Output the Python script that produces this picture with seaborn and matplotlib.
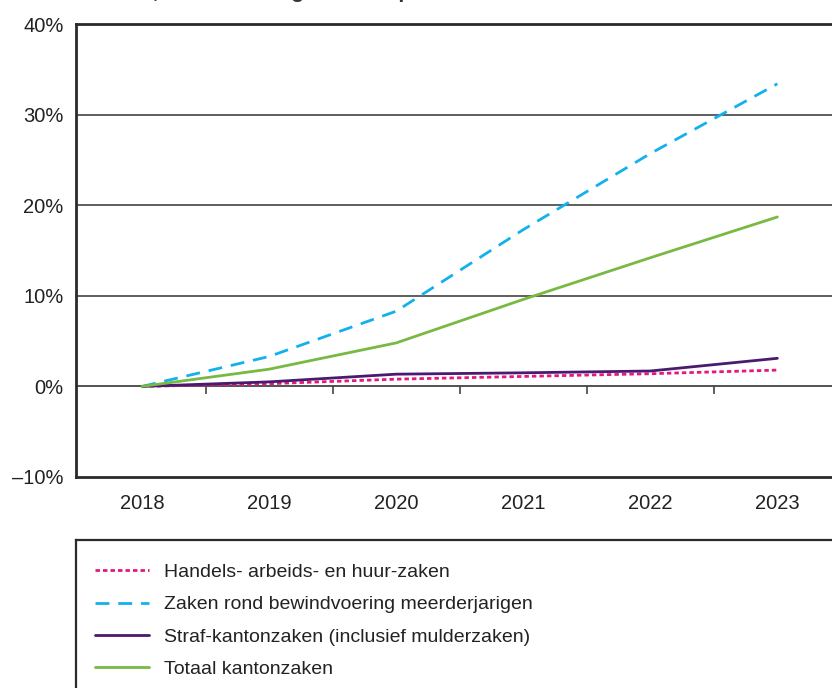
import numpy as np
import pandas as pd
import seaborn as sns
import matplotlib.pyplot as plt
from matplotlib.lines import Line2D

# data (groei t.o.v. 2018, in %)
years = [2018, 2019, 2020, 2021, 2022, 2023]
handels = [0.0, 0.3, 0.8, 1.1, 1.4, 1.8]
bewind = [0.0, 3.3, 8.3, 17.3, 25.7, 33.4]
straf = [0.0, 0.5, 1.35, 1.5, 1.7, 3.1]
totaal = [0.0, 1.9, 4.8, 9.6, 14.2, 18.7]

series_names = ['Handels- arbeids- en huur-zaken',
                'Zaken rond bewindvoering meerderjarigen',
                'Straf-kantonzaken (inclusief mulderzaken)',
                'Totaal kantonzaken']
y_ticks = [-10, 0, 10, 20, 30, 40]
y_labels = ['\u201310%', '0%', '10%', '20%', '30%', '40%']
title = 'Aantal zaken, cumulatieve groei ten opzichte van 2018'

colors = ['#E6177F', '#12B1EE', '#4A1A6E', '#78B944']
dashes = [(0, (1.6, 1.1)), (0, (5, 3.2)), '-', '-']

df = pd.DataFrame({'jaar': years, series_names[0]: handels, series_names[1]: bewind,
                   series_names[2]: straf, series_names[3]: totaal})
long = df.melt(id_vars='jaar', var_name='reeks', value_name='groei')

sns.set_style('white')
plt.rcParams['font.family'] = ['Liberation Sans', 'DejaVu Sans']

fig = plt.figure(figsize=(8.32, 6.88), dpi=100)
ax = fig.add_axes([76 / 832, 1 - 477 / 688, 1 - 76 / 832, (477 - 24) / 688])

# raster
for v in [10, 20, 30]:
    ax.axhline(v, color='#333333', lw=1.1, zorder=1)
ax.axhline(0, color='#444444', lw=1.3, zorder=1)

for name, c, ls in zip(series_names, colors, dashes):
    sub = long[long['reeks'] == name]
    sns.lineplot(data=sub, x='jaar', y='groei', ax=ax, color=c, lw=2.0,
                 linestyle=ls, zorder=3, legend=False)

ax.set_xlim(2017.48, 2023.43)
ax.set_ylim(-10, 40)
ax.set_yticks(y_ticks)
ax.set_yticklabels(y_labels)
ax.set_xticks(years)
ax.set_xticklabels([str(y) for y in years])
ax.set_xlabel('')
ax.set_ylabel('')
ax.tick_params(axis='y', length=7, width=1.2, color='#333333', labelsize=14.5, pad=2,
               labelcolor='#222222')
ax.tick_params(axis='x', length=0, labelsize=14.5, pad=12, labelcolor='#222222')

for s in ['left', 'top', 'bottom']:
    ax.spines[s].set_visible(True)
    ax.spines[s].set_color('#2a2a2a')
    ax.spines[s].set_linewidth(2.0)
ax.spines['right'].set_visible(False)

# kleine streepjes op de 0-lijn tussen de jaren
sec = ax.secondary_xaxis(0.2)
sec.set_xticks([y + 0.5 for y in years[:-1]])
sec.set_xticklabels([])
sec.tick_params(axis='x', length=6, width=1.2, color='#444444')
sec.spines['bottom'].set_visible(False)

# titel (valt grotendeels buiten beeld)
fig.text(0.03, 1 + 2 / 688, title, fontsize=15, fontweight='bold', color='#333333',
         va='baseline', ha='left')

# legenda
lax = fig.add_axes([76 / 832, 0, 1 - 76 / 832, (688 - 540) / 688])
lax.set_xticks([])
lax.set_yticks([])
for s in ['left', 'top']:
    lax.spines[s].set_visible(True)
    lax.spines[s].set_color('#2a2a2a')
    lax.spines[s].set_linewidth(1.6)
lax.spines['right'].set_visible(False)
lax.spines['bottom'].set_visible(False)

handles = [Line2D([0], [0], color=c, lw=2.0, linestyle=ls) for c, ls in zip(colors, dashes)]
leg = lax.legend(handles, series_names, loc='upper left', bbox_to_anchor=(0.0, 0.973),
                 frameon=False, handlelength=2.75, handletextpad=0.75,
                 labelspacing=0.76, borderaxespad=0.0, borderpad=1.0,
                 prop={'family': ['Liberation Sans', 'DejaVu Sans'], 'size': 14})
for t in leg.get_texts():
    t.set_color('#222222')

fig.savefig('out.png', dpi=100)
